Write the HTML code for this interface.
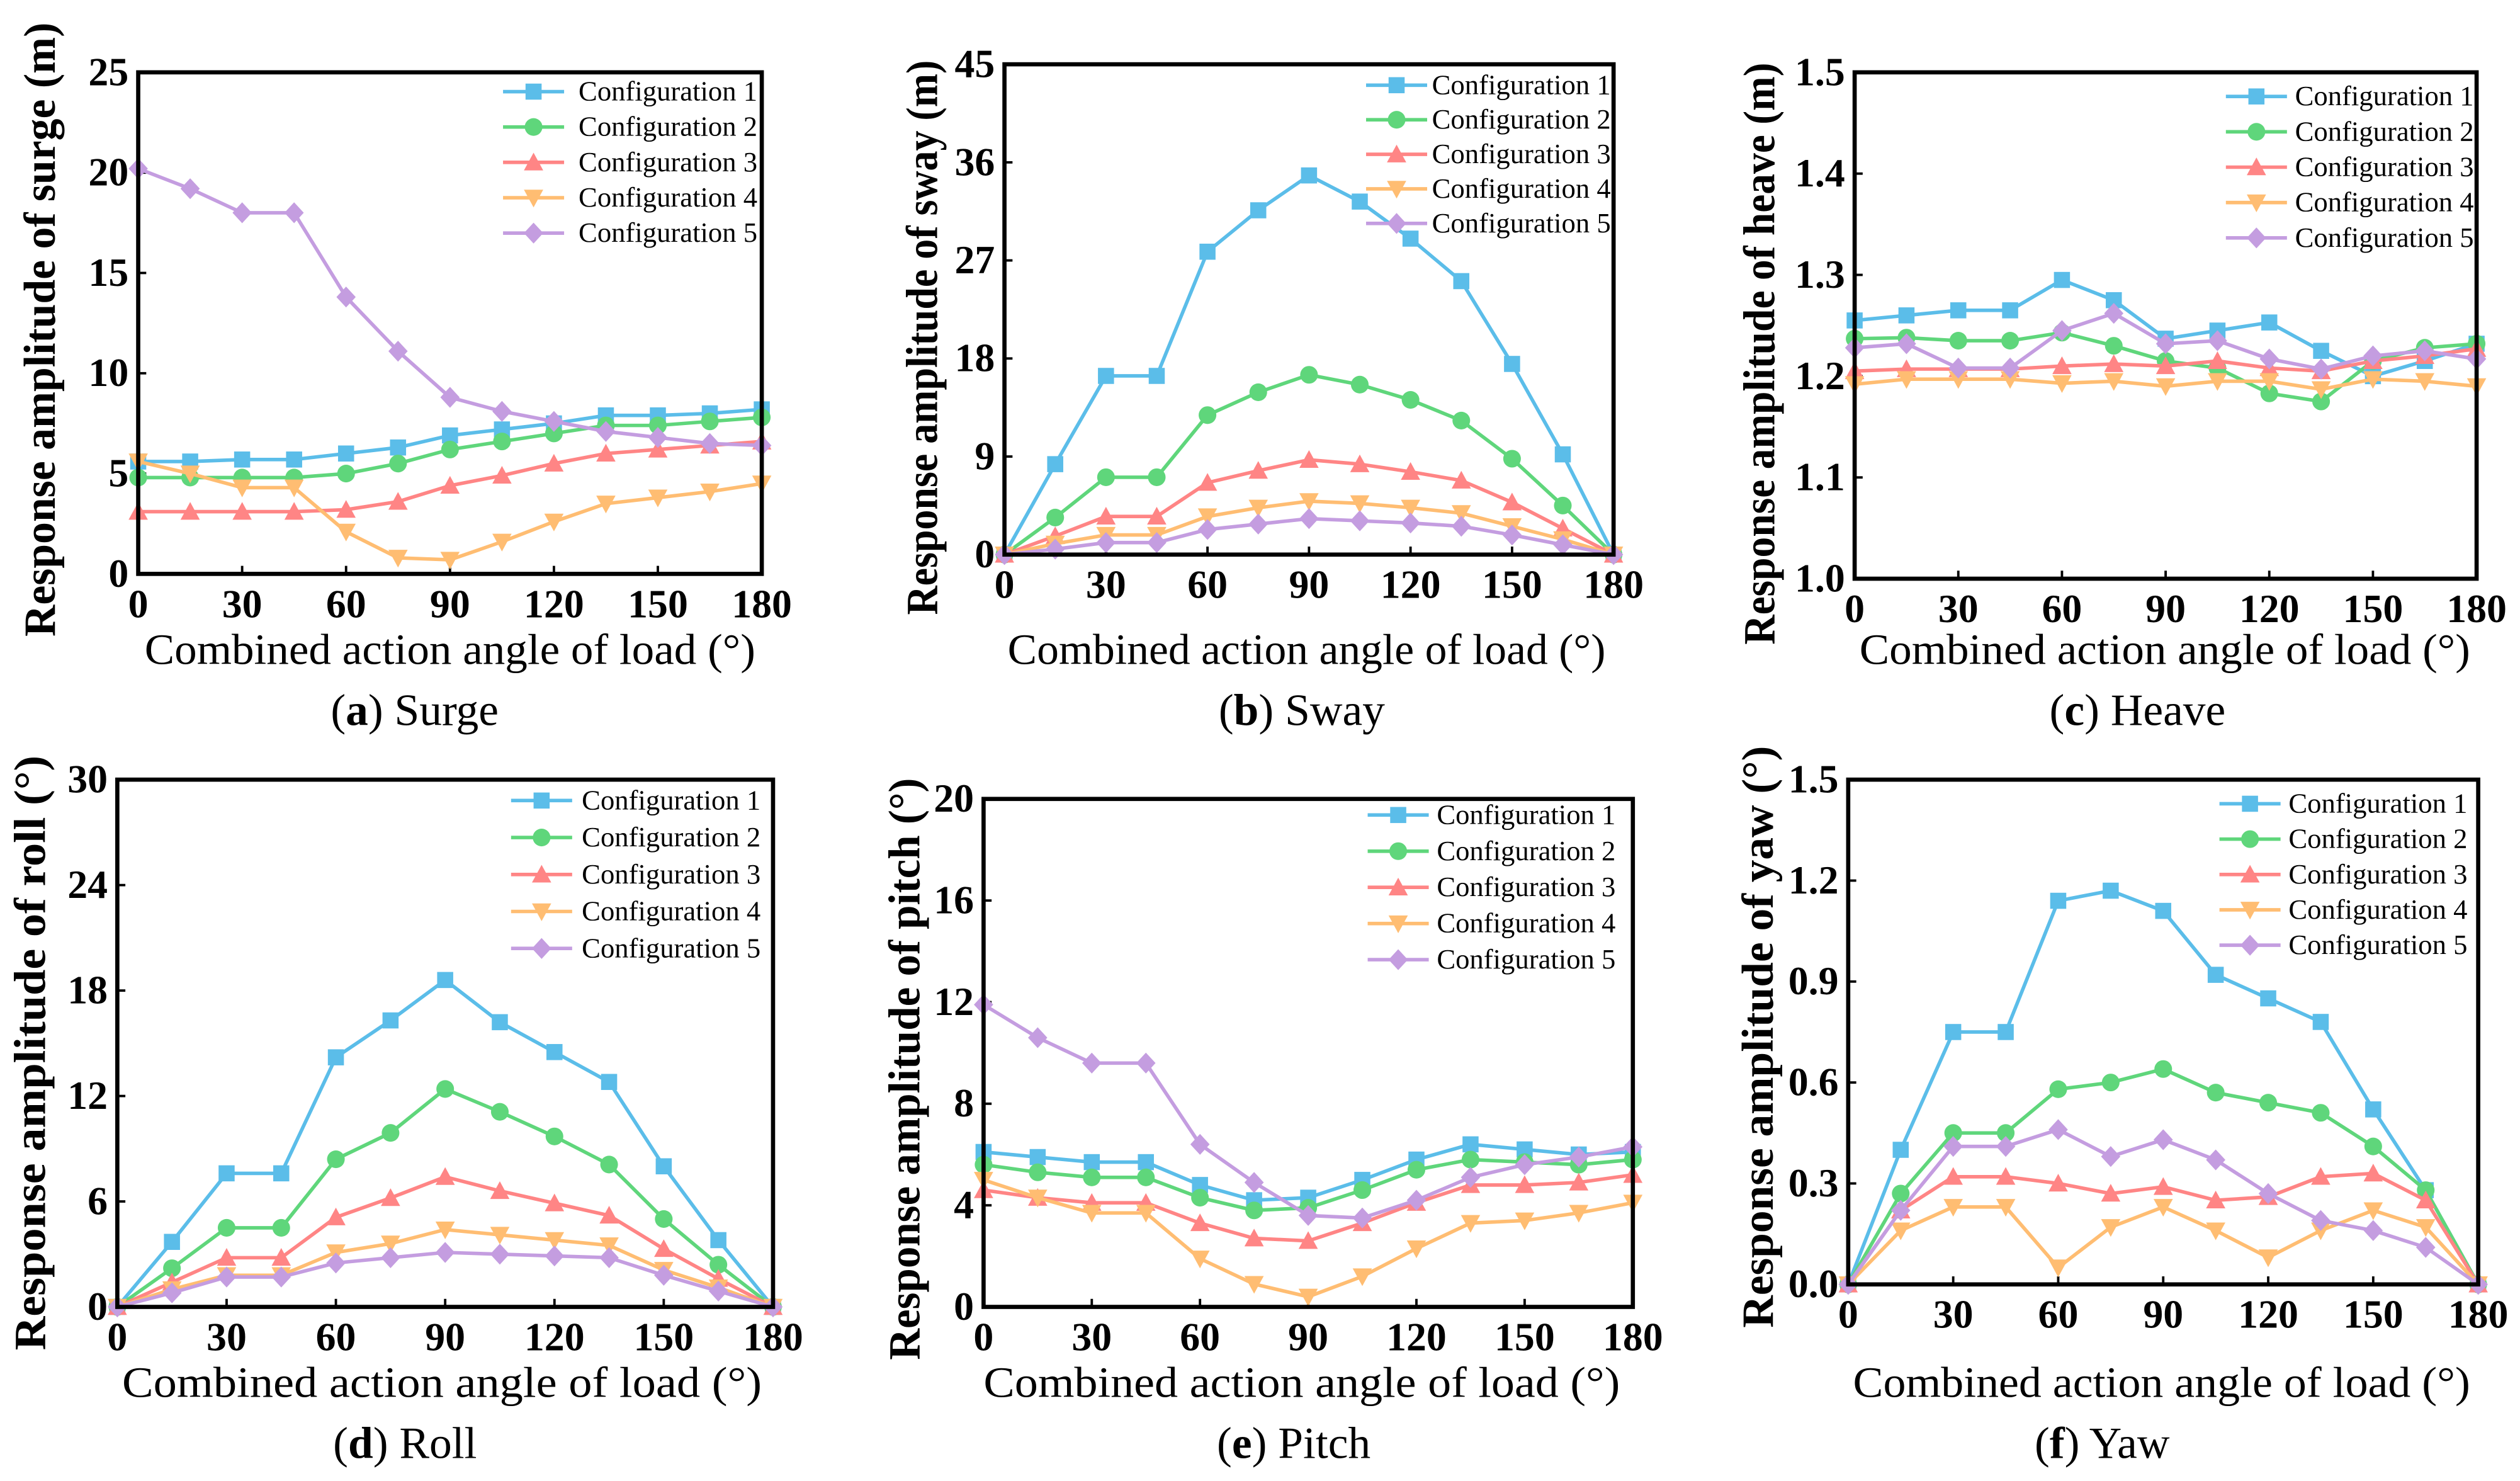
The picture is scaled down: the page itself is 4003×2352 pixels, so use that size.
<!DOCTYPE html>
<html><head><meta charset="utf-8"><style>
html,body{margin:0;padding:0;background:#fff;}
svg{display:block;}
text{font-family:"Liberation Serif",serif;}
</style></head>
<body>
<svg id="fig" width="4003" height="2352" viewBox="0 0 1568 921.3" preserveAspectRatio="none" xmlns="http://www.w3.org/2000/svg"></svg>
<script>
const angles = [0,15,30,45,60,75,90,105,120,135,150,165,180];
const xTicks = [0,30,60,90,120,150,180];
const seriesNames = ["Configuration 1","Configuration 2","Configuration 3","Configuration 4","Configuration 5"];
const colors = ["#5bbde9","#5fd67b","#ff8585","#ffbd72","#c49de0"];
const markers = ["square","circle","up","down","diamond"];

const surge1 = [5.6,5.6,5.7,5.7,6.0,6.3,6.9,7.2,7.5,7.9,7.9,8.0,8.2];
const surge2 = [4.8,4.8,4.8,4.8,5.0,5.5,6.2,6.6,7.0,7.4,7.4,7.6,7.8];
const surge3 = [3.1,3.1,3.1,3.1,3.2,3.6,4.4,4.9,5.5,6.0,6.2,6.4,6.6];
const surge4 = [5.6,5.0,4.3,4.3,2.1,0.8,0.7,1.6,2.6,3.5,3.8,4.1,4.5];
const surge5 = [20.2,19.2,18.0,18.0,13.8,11.1,8.8,8.1,7.6,7.1,6.8,6.5,6.4];
const surgeTicks = [0,5,10,15,20,25];

const sway1 = [0,8.3,16.4,16.4,27.8,31.6,34.8,32.4,29.0,25.1,17.5,9.2,0];
const sway2 = [0,3.4,7.1,7.1,12.8,14.9,16.5,15.6,14.2,12.3,8.8,4.5,0];
const sway3 = [0,1.7,3.5,3.5,6.6,7.7,8.7,8.3,7.6,6.8,4.8,2.4,0];
const sway4 = [0,1.0,1.8,1.8,3.5,4.3,4.9,4.7,4.3,3.8,2.6,1.4,0];
const sway5 = [0,0.5,1.1,1.1,2.3,2.8,3.3,3.1,2.9,2.6,1.8,0.9,0];
const swayTicks = [0,9,18,27,36,45];

const heave1 = [1.255,1.26,1.265,1.265,1.295,1.275,1.237,1.245,1.253,1.225,1.2,1.215,1.232];
const heave2 = [1.237,1.238,1.235,1.235,1.243,1.23,1.215,1.208,1.183,1.175,1.215,1.228,1.232];
const heave3 = [1.205,1.207,1.207,1.207,1.21,1.212,1.21,1.215,1.208,1.205,1.215,1.22,1.227];
const heave4 = [1.192,1.197,1.197,1.197,1.193,1.195,1.19,1.195,1.195,1.187,1.197,1.195,1.19];
const heave5 = [1.228,1.232,1.208,1.208,1.245,1.262,1.232,1.235,1.217,1.207,1.22,1.225,1.217];
const heaveTicks = ["1.0","1.1","1.2","1.3","1.4","1.5"];

const roll1 = [0,3.7,7.6,7.6,14.2,16.3,18.6,16.2,14.5,12.8,8.0,3.8,0];
const roll2 = [0,2.2,4.5,4.5,8.4,9.9,12.4,11.1,9.7,8.1,5.0,2.4,0];
const roll3 = [0,1.4,2.8,2.8,5.1,6.2,7.4,6.6,5.9,5.2,3.3,1.6,0];
const roll4 = [0,1.0,1.8,1.8,3.1,3.6,4.4,4.1,3.8,3.5,2.1,1.1,0];
const roll5 = [0,0.8,1.7,1.7,2.5,2.8,3.1,3.0,2.9,2.8,1.8,0.9,0];
const rollTicks = [0,6,12,18,24,30];

const pitch1 = [6.1,5.9,5.7,5.7,4.8,4.2,4.3,5.0,5.8,6.4,6.2,6.0,6.1];
const pitch2 = [5.6,5.3,5.1,5.1,4.3,3.8,3.9,4.6,5.4,5.8,5.7,5.6,5.8];
const pitch3 = [4.6,4.3,4.1,4.1,3.3,2.7,2.6,3.3,4.1,4.8,4.8,4.9,5.2];
const pitch4 = [5.0,4.3,3.7,3.7,1.9,0.9,0.4,1.2,2.3,3.3,3.4,3.7,4.1];
const pitch5 = [11.9,10.6,9.6,9.6,6.4,4.9,3.6,3.5,4.2,5.1,5.6,5.9,6.3];
const pitchTicks = [0,4,8,12,16,20];

const yaw1 = [0,0.40,0.75,0.75,1.14,1.17,1.11,0.92,0.85,0.78,0.52,0.28,0];
const yaw2 = [0,0.27,0.45,0.45,0.58,0.60,0.64,0.57,0.54,0.51,0.41,0.28,0];
const yaw3 = [0,0.22,0.32,0.32,0.30,0.27,0.29,0.25,0.26,0.32,0.33,0.25,0];
const yaw4 = [0,0.16,0.23,0.23,0.05,0.17,0.23,0.16,0.08,0.16,0.22,0.17,0];
const yaw5 = [0,0.22,0.41,0.41,0.46,0.38,0.43,0.37,0.27,0.19,0.16,0.11,0];
const yawTicks = ["0.0","0.3","0.6","0.9","1.2","1.5"];

const NS = "http://www.w3.org/2000/svg";
const svg = document.getElementById("fig");
function mk(tag, attrs, parent, txt){
  const e = document.createElementNS(NS, tag);
  for (const k in attrs) e.setAttribute(k, attrs[k]);
  if (txt !== undefined) e.textContent = txt;
  (parent || svg).appendChild(e);
  return e;
}

const panels = [
 {key:"surge", series:[surge1,surge2,surge3,surge4,surge5], ticks:surgeTicks, ymin:0, ymax:25,
  x0:86,x1:474,yb:357,yt:45, ytitle:"Response amplitude of surge (m)", ytx:34, ytc:205, ytl:382, cap:"Surge", letter:"a", capx:258, capy:451, xty:413, xtx:280, xtl:380, lx:313, lt:360, ly:57, ldy:22},
 {key:"sway", series:[sway1,sway2,sway3,sway4,sway5], ticks:swayTicks, ymin:0, ymax:45,
  x0:625,x1:1004,yb:345,yt:40, ytitle:"Response amplitude of sway (m)", ytx:583, ytc:210, ytl:345, cap:"Sway", letter:"b", capx:810, capy:451, xty:413, xtx:813, xtl:372, lx:850, lt:891, ly:53, ldy:21.5},
 {key:"heave", series:[heave1,heave2,heave3,heave4,heave5], ticks:heaveTicks, ymin:1.0, ymax:1.5,
  x0:1154,x1:1541,yb:360,yt:45, ytitle:"Response amplitude of heave (m)", ytx:1104, ytc:220, ytl:362, cap:"Heave", letter:"c", capx:1330, capy:451, xty:413, xtx:1347, xtl:380, lx:1385, lt:1428, ly:60, ldy:22},
 {key:"roll", series:[roll1,roll2,roll3,roll4,roll5], ticks:rollTicks, ymin:0, ymax:30,
  x0:73,x1:481,yb:813,yt:485, ytitle:"Response amplitude of roll (°)", ytx:28, ytc:655, ytl:370, cap:"Roll", letter:"d", capx:252, capy:907, xty:869, xtx:275, xtl:398, lx:318, lt:362, ly:498, ldy:23},
 {key:"pitch", series:[pitch1,pitch2,pitch3,pitch4,pitch5], ticks:pitchTicks, ymin:0, ymax:20,
  x0:612,x1:1016,yb:813,yt:497, ytitle:"Response amplitude of pitch (°)", ytx:572, ytc:665, ytl:362, cap:"Pitch", letter:"e", capx:805, capy:907, xty:869, xtx:810, xtl:396, lx:851, lt:894, ly:507, ldy:22.5},
 {key:"yaw", series:[yaw1,yaw2,yaw3,yaw4,yaw5], ticks:yawTicks, ymin:0, ymax:1.5,
  x0:1150,x1:1542,yb:799,yt:485, ytitle:"Response amplitude of yaw (°)", ytx:1103, ytc:645, ytl:362, cap:"Yaw", letter:"f", capx:1308, capy:907, xty:869, xtx:1345, xtl:384, lx:1381, lt:1424, ly:500, ldy:22}
];

function marker(g, type, x, y, color){
  const s = 5;
  let e;
  if (type === "square") e = mk("rect",{x:x-s,y:y-s,width:2*s,height:2*s,fill:color},g);
  else if (type === "circle") e = mk("circle",{cx:x,cy:y,r:s+0.5,fill:color},g);
  else if (type === "up") e = mk("polygon",{points:`${x},${y-s-1} ${x+s+1},${y+s} ${x-s-1},${y+s}`,fill:color},g);
  else if (type === "down") e = mk("polygon",{points:`${x},${y+s+1} ${x+s+1},${y-s} ${x-s-1},${y-s}`,fill:color},g);
  else e = mk("polygon",{points:`${x},${y-s-1.5} ${x+s+1},${y} ${x},${y+s+1.5} ${x-s-1},${y}`,fill:color},g);
  
  
  return e;
}

panels.forEach(p => {
  const g = mk("g",{});
  
  
  const sx = v => p.x0 + (v - 0) / 180 * (p.x1 - p.x0);
  const sy = v => p.yb - (v - p.ymin) / (p.ymax - p.ymin) * (p.yb - p.yt);

  xTicks.forEach(t => {
    const tl = mk("line",{x1:sx(t),x2:sx(t),y1:p.yb,y2:p.yb-5,stroke:"#000","stroke-width":1.5},g);
    
    
    const tt = mk("text",{x:sx(t),y:p.yb+27,"text-anchor":"middle","font-size":25,"font-weight":"bold"},g,String(t));
    
    
  });
  p.ticks.forEach(t => {
    const v = parseFloat(t);
    const tl = mk("line",{x1:p.x0,x2:p.x0+5,y1:sy(v),y2:sy(v),stroke:"#000","stroke-width":1.5},g);
    
    
    const tt = mk("text",{x:p.x0-6,y:sy(v)+8,"text-anchor":"end","font-size":25,"font-weight":"bold"},g,String(t));
    
    
  });

  p.series.forEach((vals, i) => {
    const sg = mk("g",{},g);
    
    
    const pts = vals.map((v,j) => sx(angles[j]).toFixed(2)+","+sy(v).toFixed(2)).join(" ");
    const pl = mk("polyline",{points:pts,fill:"none",stroke:colors[i],"stroke-width":2.2},sg);
    
    
    vals.forEach((v,j) => marker(sg, markers[i], sx(angles[j]), sy(v), colors[i]));
  });

  const fr = mk("rect",{x:p.x0,y:p.yt,width:p.x1-p.x0,height:p.yb-p.yt,fill:"none",stroke:"#000","stroke-width":2.6},g);
  
  

  const lg = mk("g",{},g);
  
  
  seriesNames.forEach((n,i) => {
    const y = p.ly + i*p.ldy;
    const le = mk("g",{},lg);
    
    
    mk("line",{x1:p.lx,x2:p.lx+38,y1:y,y2:y,stroke:colors[i],"stroke-width":2.2},le);
    marker(le, markers[i], p.lx+19, y, colors[i]);
    const lt = mk("text",{x:p.lt,y:y+5.5,"font-size":17.5},le,n);
    
    
  });

  const xt = mk("text",{x:p.xtx,y:p.xty,"text-anchor":"middle","font-size":27,textLength:p.xtl,lengthAdjust:"spacingAndGlyphs"},g,"Combined action angle of load (°)");
  
  
  const ycy = p.ytc;
  const yt = mk("text",{x:p.ytx,y:ycy,"text-anchor":"middle","font-size":28,"font-weight":"bold",textLength:p.ytl,lengthAdjust:"spacingAndGlyphs",transform:`rotate(-90 ${p.ytx} ${ycy})`},g,p.ytitle);
  
  

  const cp = mk("text",{x:p.capx,y:p.capy,"text-anchor":"middle","font-size":28},g);
  
  
  mk("tspan",{},cp,"(");
  mk("tspan",{"font-weight":"bold"},cp,p.letter);
  mk("tspan",{},cp,") " + p.cap);
});
</script>
</body></html>
